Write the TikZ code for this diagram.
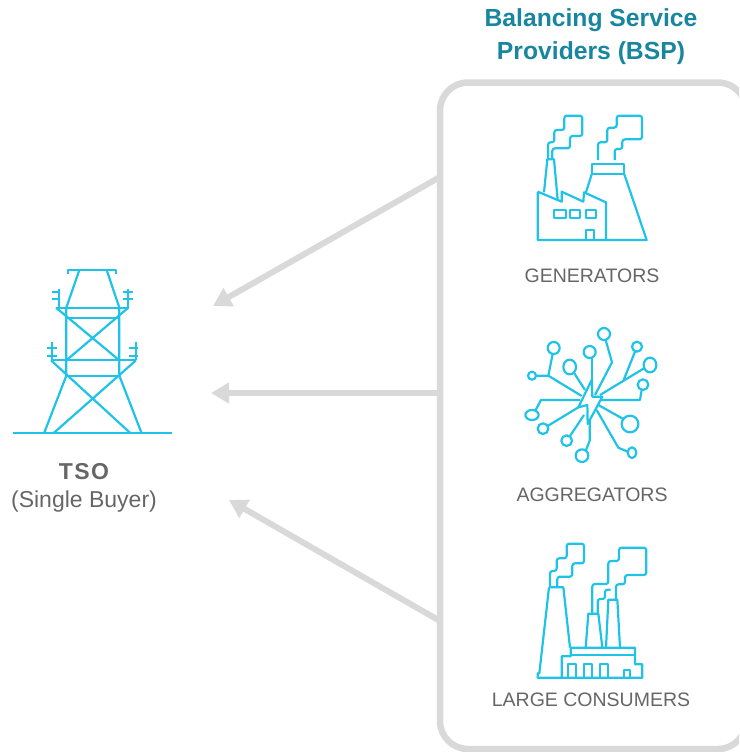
\documentclass[tikz,border=0pt]{standalone}
\usepackage{fontspec}
\setmainfont{Liberation Sans}
\usetikzlibrary{arrows.meta}
\definecolor{iconblue}{HTML}{1FC3E8}
\definecolor{panelgray}{HTML}{D9D9D9}
\definecolor{headteal}{HTML}{17869E}
\definecolor{labelgray}{HTML}{666666}
\tikzset{
  icon/.style={draw=iconblue,line width=2.2pt,line join=round},
  smoke/.style={icon,rounded corners=2.5pt},
  flowarrow/.style={draw=panelgray,line width=6pt,-{Triangle[length=18pt,width=20pt]}},
  iconlabel/.style={text=labelgray,font=\fontsize{19.5}{23}\selectfont,inner sep=0pt,anchor=center},
  headlabel/.style={text=headteal,font=\fontsize{24.7}{33}\selectfont\bfseries,align=center,inner sep=0pt},
}
\begin{document}
\begin{tikzpicture}[x=1pt,y=-1pt]
\useasboundingbox (0,0) rectangle (739,752);
\clip (0,0) rectangle (739,752);
% panel
\node[draw=panelgray,line width=6.5pt,rounded corners=28pt,outer sep=0pt,minimum width=306pt,minimum height=666.5pt,anchor=north west,inner sep=0pt] (panel) at (440,82.5) {};
\coordinate (a1s) at (440,177);
\coordinate (a1e) at (213,306);
\coordinate (a2s) at (440,393);
\coordinate (a2e) at (211,393);
\coordinate (a3s) at (440,621);
\coordinate (a3e) at (229,500);
\draw[flowarrow] (a1s) -- (a1e);
\draw[flowarrow] (a2s) -- (a2e);
\draw[flowarrow] (a3s) -- (a3e);
% heading and labels
\node[headlabel] (head) at (591,37) {Balancing Service\\Providers (BSP)};
\node[iconlabel] (gen) at (592,276) {GENERATORS};
\node[iconlabel] (agg) at (592,495) {AGGREGATORS};
\node[iconlabel] (lrg) at (591,700) {LARGE CONSUMERS};
\node[iconlabel,font=\fontsize{23}{27}\selectfont\bfseries] (tso) at (84,471.5) {T\kern1.5pt S\kern1.5pt O};
\node[iconlabel,font=\fontsize{23}{27}\selectfont] (sb) at (84,502) {(Single Buyer)};
% tower
\begin{scope}[shift={(0,255)},scale=1/3]
\draw[icon] (203,58) -- (203,45) -- (348,45) -- (348,58);
\draw[icon] (238,45) -- (199,158) -- (199,362) -- (132,535);
\draw[icon] (320,45) -- (358,158) -- (358,362) -- (425,535);
\draw[icon] (168,158) -- (385,158);
\draw[icon] (199,188) -- (358,188);
\draw[icon] (153,316) -- (408,316);
\draw[icon] (199,362) -- (358,362);
\draw[icon] (168,158) -- (358,316);
\draw[icon] (385,158) -- (199,316);
\draw[icon] (153,316) -- (392,535);
\draw[icon] (408,316) -- (160,535);
\draw[icon] (40,535) -- (517,535);
\draw[icon] (176,103) -- (176,158) (155,110) -- (180,110) (155,133) -- (180,133);
\draw[icon] (385,103) -- (385,158) (370,110) -- (398,110) (370,133) -- (398,133);
\draw[icon] (155,260) -- (155,316) (142,280) -- (170,280) (142,303) -- (170,303);
\draw[icon] (408,260) -- (408,316) (388,280) -- (415,280) (388,303) -- (415,303);
\end{scope}
% generators
\begin{scope}[shift={(520,105)},scale=1/3]
\draw[icon] (53,260) -- (53,405) -- (380,405) -- (313,208);
\draw[icon] (53,260) -- (125,290) -- (125,260) -- (190,290) -- (192,262) -- (258,292) -- (258,405);
\draw[icon] (72,262) -- (82,163) -- (102,163) -- (113,285);
\draw[smoke] (84,163) -- (84,112) -- (103,112) -- (103,75) -- (133,75) -- (133,32) -- (187,32) -- (187,93) -- (150,93) -- (150,130) -- (97,130) -- (97,163);
\draw[smoke] (234,165) -- (234,112) -- (262,112) -- (262,68) -- (290,68) -- (290,32) -- (366,32) -- (366,103) -- (307,103) -- (307,132) -- (284,132) -- (284,165);
\draw[icon] (215,177) rectangle (313,208);
\draw[icon] (215,208) -- (197,265);
\draw[icon] (198,405) -- (198,374) -- (222,374) -- (222,405);
\draw[icon] (102,315) rectangle (137,338);
\draw[icon] (150,315) rectangle (180,338);
\draw[icon] (197,315) rectangle (228,338);
\end{scope}
% aggregators
\begin{scope}[shift={(515,320)},scale=1/3]
\draw[icon] (230,180) -- (232,230) -- (262,230) -- (218,312) -- (217,255) -- (190,262) -- cycle;
\draw[icon] (267,42) circle[radius=18];
\draw[icon] (272,60) -- (291,127) -- (240,225);
\draw[icon] (366,80) circle[radius=15];
\draw[icon] (360,95) -- (326,180);
\draw[icon] (405,135) ellipse[x radius=19,y radius=22];
\draw[icon] (387,145) -- (255,225);
\draw[icon] (384,194) circle[radius=16];
\draw[icon] (380,210) -- (375,240) -- (255,240);
\draw[icon] (345,312) circle[radius=25];
\draw[icon] (325,297) -- (250,255);
\draw[icon] (351,398) ellipse[x radius=13,y radius=16];
\draw[icon] (338,395) -- (310,383) -- (245,270);
\draw[icon] (201,407) circle[radius=19];
\draw[icon] (213,390) -- (224,362) -- (224,300);
\draw[icon] (155,362) circle[radius=16];
\draw[icon] (165,348) -- (207,285);
\draw[icon] (84,326) circle[radius=16];
\draw[icon] (98,318) -- (190,262);
\draw[icon] (51,285) ellipse[x radius=20,y radius=15];
\draw[icon] (62,270) -- (78,240) -- (195,240);
\draw[icon] (51,167) circle[radius=12];
\draw[icon] (63,167) -- (100,167) -- (200,228);
\draw[icon] (116,84) circle[radius=18];
\draw[icon] (113,102) -- (100,167);
\draw[icon] (164,141) ellipse[x radius=19,y radius=22];
\draw[icon] (178,160) -- (210,210);
\draw[icon] (224,96) circle[radius=18];
\draw[icon] (231,114) -- (231,180);
\end{scope}
% large consumers
\begin{scope}[shift={(525,535)},scale=1/3]
\draw[icon] (72,157) -- (115,157) -- (135,338);
\draw[icon] (72,157) -- (43,415) -- (38,415) -- (38,428) -- (352,428) -- (352,388) -- (330,388) -- (330,338) -- (137,338) -- (137,364) -- (110,364) -- (110,428);
\draw[icon] (137,360) -- (330,360);
\draw[icon] (128,428) -- (128,388) -- (152,388) -- (152,428);
\draw[icon] (176,428) -- (176,388) -- (200,388) -- (200,428);
\draw[icon] (224,428) -- (224,388) -- (248,388) -- (248,428);
\draw[icon] (296,428) -- (296,404) -- (316,404) -- (316,428);
\draw[icon] (182,338) -- (190,236) -- (220,236) -- (232,338);
\draw[icon] (243,338) -- (250,194) -- (277,194) -- (285,338);
\draw[smoke] (75,157) -- (75,108) -- (95,108) -- (95,70) -- (125,70) -- (125,26) -- (177,26) -- (177,85) -- (142,85) -- (142,125) -- (97,125) -- (97,157);
\draw[smoke] (202,236) -- (202,147) -- (250,147) -- (250,78) -- (282,78) -- (282,38) -- (364,38) -- (364,120) -- (300,120) -- (300,148) -- (273,148) -- (273,194);
\draw[smoke] (218,236) -- (218,192) -- (240,192) -- (240,164) -- (257,164);
\end{scope}
\end{tikzpicture}
\end{document}
